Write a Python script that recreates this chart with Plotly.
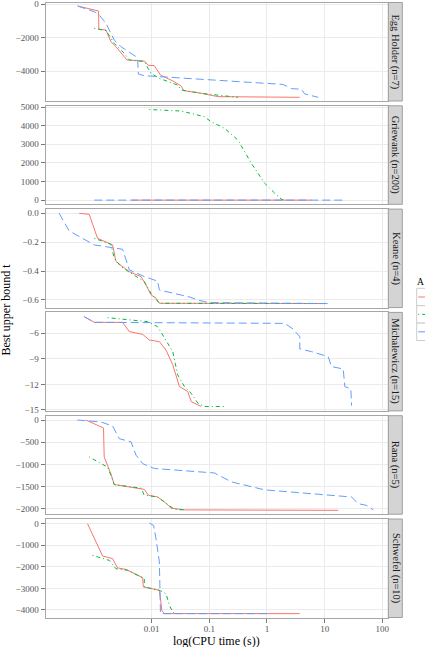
import plotly.graph_objects as go

W, H = 425, 647

# ---------------- data (CPU time in seconds, best upper bound) ----------------
panel_names = ["Egg Holder (n=7)", "Griewank (n=200)", "Keane (n=4)",
               "Michalewicz (n=15)", "Rana (n=5)", "Schwefel (n=10)"]
series_names = ["A1", "A2", "A3"]

# Egg Holder
egg_red_t = [0.00052, 0.00120, 0.00121, 0.00161, 0.00196, 0.00240, 0.00372, 0.00745,
             0.00875, 0.0111, 0.0142, 0.0248, 0.0324, 0.0361, 0.0724, 0.141, 3.70]
egg_red_v = [-120, -420, -1510, -1550, -2250, -2550, -3340, -3400,
             -3660, -3680, -4240, -4640, -4900, -5170, -5330, -5530, -5570]
egg_green_t = [0.00101, 0.00161, 0.00224, 0.00335, 0.00409, 0.00745, 0.00973,
               0.0136, 0.0283, 0.0324, 0.0721, 0.313]
egg_green_v = [-1450, -1590, -2350, -2950, -3340, -3440, -4140,
               -4440, -4840, -5130, -5330, -5570]
egg_blue_t = [0.00052, 0.00101, 0.00123, 0.00161, 0.00224, 0.00293, 0.00535, 0.00571,
              0.00586, 0.00745, 1.90, 2.65, 3.95, 4.52, 7.71]
egg_blue_v = [-120, -460, -660, -1150, -2150, -2550, -3140, -3300,
              -4180, -4280, -4800, -5050, -5090, -5370, -5570]

# Griewank
gri_red_t = [0.0045, 5.9]
gri_red_v = [0, 0]
gri_green_t = [0.00910, 0.0190, 0.0324, 0.0483, 0.0824, 0.108, 0.184, 0.313,
               0.409, 0.535, 0.697, 0.910, 1.36, 1.77, 2.03]
gri_green_v = [4870, 4840, 4790, 4660, 4480, 4210, 3860, 3230,
               2610, 1980, 1450, 910, 375, 55, 0]
gri_blue_t = [0.00101, 21.0]
gri_blue_v = [0, 0]

# Keane
kea_red_t = [0.000552, 0.000824, 0.00115, 0.00210, 0.00240, 0.00409, 0.00652,
             0.00796, 0.00973, 0.0119, 0.0136, 10.07]
kea_red_v = [0.0, -0.007, -0.173, -0.219, -0.334, -0.404, -0.438,
             -0.496, -0.565, -0.588, -0.623, -0.625]
kea_green_t = [0.00101, 0.00196, 0.00224, 0.00293, 0.00438, 0.00745, 0.00973, 0.0136, 11.5]
kea_green_v = [-0.173, -0.215, -0.311, -0.369, -0.415, -0.473, -0.554, -0.623, -0.625]
kea_blue_t = [0.000248, 0.000370, 0.00101, 0.00313, 0.00409, 0.00745, 0.0127, 0.0136,
              0.046, 0.063, 0.095, 11.5]
kea_blue_v = [0.0, -0.122, -0.219, -0.249, -0.392, -0.438, -0.470, -0.531,
              -0.580, -0.600, -0.618, -0.625]

# Michalewicz
mic_red_t = [0.000675, 0.00101, 0.00313, 0.00409, 0.00697, 0.00910, 0.0136, 0.0177,
             0.0232, 0.0265, 0.0303, 0.0423, 0.0483, 0.0721]
mic_red_v = [-4.04, -4.71, -4.71, -5.80, -6.12, -6.78, -6.98, -7.96,
             -9.70, -10.89, -12.26, -12.85, -14.02, -14.6]
mic_green_t = [0.00172, 0.00851, 0.0127, 0.0166, 0.0232, 0.0283, 0.0370, 0.0483,
               0.0631, 0.0824, 0.196]
mic_green_v = [-4.16, -4.63, -5.22, -6.59, -8.15, -10.89, -12.26, -13.04,
               -14.21, -14.6, -14.6]
mic_blue_t = [0.000675, 0.00101, 2.03, 2.83, 3.70, 3.71, 5.90, 11.5, 13.2, 21.0,
              22.4, 28.5, 29.3]
mic_blue_v = [-4.04, -4.71, -4.83, -5.49, -6.39, -7.84, -8.15, -8.74, -9.91, -10.19,
              -12.26, -12.53, -14.5]

# Rana
ran_red_t = [0.000721, 0.00146, 0.00150, 0.00172, 0.00196, 0.00224, 0.00438, 0.00745,
             0.00875, 0.0127, 0.0166, 0.0217, 0.0370, 17.2]
ran_red_v = [0, -180, -830, -1020, -1210, -1450, -1510, -1560,
             -1690, -1730, -1840, -1980, -2020, -2030]
ran_green_t = [0.000824, 0.00172, 0.00196, 0.00224, 0.00652, 0.00745, 0.0127,
               0.0166, 0.0248, 0.0370]
ran_green_v = [-830, -1060, -1240, -1450, -1530, -1690, -1730,
               -1840, -2010, -2020]
ran_blue_t = [0.000516, 0.00132, 0.00210, 0.00274, 0.00438, 0.00535, 0.00697, 0.0111,
              0.123, 0.240, 0.910, 29.3, 38.3, 53.5, 69.7]
ran_blue_v = [0, -45, -135, -420, -490, -790, -980, -1090,
              -1190, -1390, -1570, -1730, -1880, -1920, -2020]

# Schwefel
sch_red_t = [0.000771, 0.00141, 0.00210, 0.00256, 0.00358, 0.00697, 0.00716,
             0.0136, 0.0142, 0.0150, 0.0165, 3.70]
sch_red_v = [0, -1500, -1620, -2050, -2120, -2500, -2930,
             -3090, -3480, -4020, -4170, -4170]
sch_green_t = [0.000942, 0.00184, 0.00240, 0.00383, 0.00745, 0.00746, 0.0136,
               0.0177, 0.0207, 0.0234, 0.0254]
sch_green_v = [-1470, -1700, -2090, -2160, -2550, -2930, -3090,
               -3250, -3840, -4100, -4170]
sch_blue_t = [0.00910, 0.0108, 0.0119, 0.0136, 0.0142, 0.99]
sch_blue_v = [30, -80, -700, -1780, -4170, -4170]

panel_data = [
    [(egg_red_t, egg_red_v), (egg_green_t, egg_green_v), (egg_blue_t, egg_blue_v)],
    [(gri_red_t, gri_red_v), (gri_green_t, gri_green_v), (gri_blue_t, gri_blue_v)],
    [(kea_red_t, kea_red_v), (kea_green_t, kea_green_v), (kea_blue_t, kea_blue_v)],
    [(mic_red_t, mic_red_v), (mic_green_t, mic_green_v), (mic_blue_t, mic_blue_v)],
    [(ran_red_t, ran_red_v), (ran_green_t, ran_green_v), (ran_blue_t, ran_blue_v)],
    [(sch_red_t, sch_red_v), (sch_green_t, sch_green_v), (sch_blue_t, sch_blue_v)],
]

# tick values / labels
x_tickvals = [0.01, 0.1, 1, 10, 100]
x_ticktext = ["0.01", "0.1", "1", "10", "100"]
y_tickvals = [
    [0, -2000, -4000],
    [0, 1000, 2000, 3000, 4000, 5000],
    [0.0, -0.2, -0.4, -0.6],
    [-6, -9, -12, -15],
    [0, -500, -1000, -1500, -2000],
    [0, -1000, -2000, -3000, -4000],
]
y_ticktext = [
    ["0", "\u22122000", "\u22124000"],
    ["0", "1000", "2000", "3000", "4000", "5000"],
    ["0.0", "\u22120.2", "\u22120.4", "\u22120.6"],
    ["\u22126", "\u22129", "\u221212", "\u221215"],
    ["0", "\u2212500", "\u22121000", "\u22121500", "\u22122000"],
    ["0", "\u22121000", "\u22122000", "\u22123000", "\u22124000"],
]

# ---------------- styling / layout ----------------
colors = ["#F8766D", "#00BA38", "#619CFF"]
dashes = ["solid", "1px,3px,4px,3px", "8px,4px"]
y_ranges = [[-5790, 90], [-225, 5070], [-0.653, 0.029], [-15.12, -3.54],
            [-2117, 97], [-4350, 218]]
x_range = [-3.842, 2.094]

FONT = "Liberation Serif"
plot_l, plot_r = 45.5, 387.7
panel_top0, panel_h, panel_gap = 2.5, 98.5, 4.8
strip_l, strip_r = 388.3, 402.3


def fx(px):
    return px / W


def fy(py):
    return 1 - py / H


fig = go.Figure()
layout = dict(
    width=W, height=H,
    margin=dict(l=0, r=0, t=0, b=0, autoexpand=False),
    paper_bgcolor="white", plot_bgcolor="white",
    showlegend=False,
    font=dict(family=FONT, color="#222222"),
)
shapes = []
annotations = []

for i in range(6):
    n = i + 1
    top = panel_top0 + i * (panel_h + panel_gap)
    bot = top + panel_h
    xa = "x" if n == 1 else f"x{n}"
    ya = "y" if n == 1 else f"y{n}"
    for s in range(3):
        t, v = panel_data[i][s]
        fig.add_trace(go.Scatter(
            x=t, y=v, mode="lines", name=series_names[s],
            line=dict(color=colors[s], width=1, dash=dashes[s]),
            xaxis=xa, yaxis=ya, showlegend=False))
    is_bottom = (n == 6)
    layout["xaxis" if n == 1 else f"xaxis{n}"] = dict(
        domain=[fx(plot_l), fx(plot_r)], anchor=ya, type="log", range=x_range,
        tickvals=x_tickvals, ticktext=x_ticktext, showticklabels=is_bottom,
        ticks="outside" if is_bottom else "", ticklen=4, tickcolor="#777777",
        ticklabelstandoff=-1, ticklabeloverflow="allow",
        tickfont=dict(size=9, color="#555555", family=FONT),
        showgrid=True, gridcolor="#ebebeb", gridwidth=1,
        showline=True, mirror=True, linecolor="#a6a6a6", linewidth=1,
        zeroline=False, **({} if n == 1 else {"matches": "x"}))
    layout["yaxis" if n == 1 else f"yaxis{n}"] = dict(
        domain=[fy(bot), fy(top)], anchor=xa, range=y_ranges[i],
        tickvals=y_tickvals[i], ticktext=y_ticktext[i],
        ticks="outside", ticklen=4, tickcolor="#777777",
        ticklabeloverflow="allow",
        tickfont=dict(size=9, color="#555555", family=FONT),
        showgrid=True, gridcolor="#ebebeb", gridwidth=1,
        showline=True, mirror=True, linecolor="#a6a6a6", linewidth=1,
        zeroline=False)
    # facet strip
    shapes.append(dict(type="rect", xref="paper", yref="paper",
                       x0=fx(strip_l), x1=fx(strip_r), y0=fy(bot), y1=fy(top),
                       fillcolor="#d4d4d4", line=dict(color="#9e9e9e", width=1),
                       layer="above"))
    annotations.append(dict(text=panel_names[i], xref="paper", yref="paper",
                            x=fx((strip_l + strip_r) / 2), y=fy((top + bot) / 2),
                            textangle=90, showarrow=False,
                            font=dict(size=10.5, color="#1a1a1a", family=FONT),
                            xanchor="center", yanchor="middle"))

# axis titles
annotations.append(dict(text="Best upper bound t", xref="paper", yref="paper",
                        x=fx(5.5), y=fy(310), textangle=-90, showarrow=False,
                        font=dict(size=12, color="black", family=FONT),
                        xanchor="center", yanchor="middle"))
annotations.append(dict(text="log(CPU time (s))", xref="paper", yref="paper",
                        x=fx((plot_l + plot_r) / 2), y=fy(641), showarrow=False,
                        font=dict(size=12, color="black", family=FONT),
                        xanchor="center", yanchor="middle"))

# legend (partly cut off at the right edge, as in the reference)
annotations.append(dict(text="A", xref="paper", yref="paper",
                        x=fx(415.5), y=fy(282), showarrow=False,
                        font=dict(size=9.5, color="black", family=FONT),
                        xanchor="left", yanchor="middle", borderpad=0))
key_top, key_h = 288.3, 17.4
for s in range(3):
    y0 = key_top + s * key_h
    shapes.append(dict(type="rect", xref="paper", yref="paper",
                       x0=fx(416.7), x1=fx(416.7 + key_h), y0=fy(y0 + key_h), y1=fy(y0),
                       fillcolor="white", line=dict(color="#cccccc", width=1)))
    shapes.append(dict(type="line", xref="paper", yref="paper",
                       x0=fx(418.2), x1=fx(433), y0=fy(y0 + key_h / 2), y1=fy(y0 + key_h / 2),
                       line=dict(color=colors[s], width=1, dash=dashes[s])))

layout["shapes"] = shapes
layout["annotations"] = annotations
fig.update_layout(**layout)
fig.write_html("out.html")
